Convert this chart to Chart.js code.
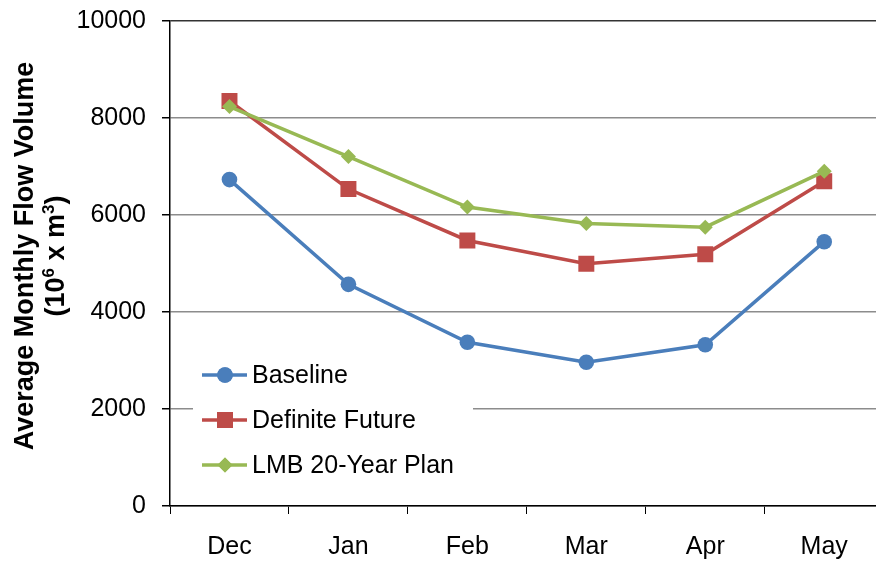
<!DOCTYPE html>
<html>
<head>
<meta charset="utf-8">
<script src="https://cdn.jsdelivr.net/npm/chart.js@4"></script>
<style>
  html, body { margin: 0; padding: 0; background: #fff; overflow: hidden; }
  #wrap { width: 895px; height: 572px; margin-top: -10px; }
</style>
</head>
<body>
<div id="wrap"><canvas id="flowChart" width="895" height="572"></canvas></div>
<script>
const months = ['Dec', 'Jan', 'Feb', 'Mar', 'Apr', 'May'];
const baseline = [6730, 4570, 3375, 2965, 3325, 5450];
const definiteFuture = [8350, 6535, 5475, 4995, 5190, 6695];
const lmbPlan = [8235, 7205, 6165, 5825, 5750, 6900];
const yTicks = [0, 2000, 4000, 6000, 8000, 10000];

const seriesNames = ['Baseline', 'Definite Future', 'LMB 20-Year Plan'];
const seriesColors = ['#4a7ebb', '#be4b48', '#98b954'];
const seriesPoints = ['circle', 'rect', 'rectRot'];
const seriesRadius = [7.8, 11.3, 7.5];

const fontFam = '"Liberation Sans", Arial, sans-serif';
const shiftY = 10; // canvas is pulled up by this much

// legend box drawn inside the plot, bottom-left, with white background
const insideLegend = {
    id: 'insideLegend',
    afterDraw(chart) {
        const ctx = chart.ctx;
        ctx.save();
        ctx.translate(0, shiftY);
        ctx.fillStyle = '#fff';
        ctx.fillRect(193, 352, 280, 136);
        ctx.font = '25px ' + fontFam;
        ctx.textBaseline = 'middle';
        ctx.textAlign = 'left';
        seriesNames.forEach(function (name, i) {
            let y = 375 + i * 45;
            ctx.strokeStyle = seriesColors[i];
            ctx.lineWidth = 3.5;
            ctx.beginPath();
            ctx.moveTo(202, y);
            ctx.lineTo(247, y);
            ctx.stroke();
            ctx.fillStyle = seriesColors[i];
            Chart.helpers.drawPoint(ctx, { pointStyle: seriesPoints[i], radius: seriesRadius[i], rotation: 0, borderWidth: 0 }, 225, y);
            ctx.fill();
            ctx.fillStyle = '#000';
            ctx.fillText(name, 252, y + 1);
        });
        ctx.restore();
    }
};

// rotated y-axis title with superscripts
const yTitle = {
    id: 'yTitle',
    afterDraw(chart) {
        const ctx = chart.ctx;
        ctx.save();
        ctx.fillStyle = '#000';
        ctx.textBaseline = 'middle';
        ctx.translate(0, 256 + shiftY);
        ctx.rotate(-Math.PI / 2);
        const big = 'bold 27px ' + fontFam;
        const small = 'bold 17px ' + fontFam;
        ctx.font = big;
        ctx.textAlign = 'center';
        ctx.fillText('Average Monthly Flow Volume', 0, 26);
        // second line: (10^6 x m^3)
        const parts = [['(10', big, 0], ['6', small, -8], [' x m', big, 0], ['3', small, -8], [')', big, 0]];
        let total = 0;
        parts.forEach(function (p) { ctx.font = p[1]; total += ctx.measureText(p[0]).width; });
        let x = -total / 2;
        ctx.textAlign = 'left';
        parts.forEach(function (p) {
            ctx.font = p[1];
            ctx.fillText(p[0], x, 57 + p[2]);
            x += ctx.measureText(p[0]).width;
        });
        ctx.restore();
    }
};

function makeSet(i, values) {
    return {
        label: seriesNames[i],
        data: values,
        borderColor: seriesColors[i],
        backgroundColor: seriesColors[i],
        borderWidth: 3.5,
        pointStyle: seriesPoints[i],
        pointRadius: seriesRadius[i],
        pointBorderWidth: 0,
        tension: 0
    };
}

new Chart(document.getElementById('flowChart').getContext('2d'), {
    type: 'line',
    data: {
        labels: months,
        datasets: [makeSet(2, lmbPlan), makeSet(1, definiteFuture), makeSet(0, baseline)]
    },
    options: {
        responsive: false,
        animation: false,
        layout: { padding: { top: 8, right: 0, left: 0, bottom: 0 } },
        plugins: { legend: { display: false }, tooltip: { enabled: false } },
        scales: {
            x: {
                offset: true,
                grid: { offset: true, drawOnChartArea: false, tickLength: 8, tickColor: '#000' },
                border: { color: '#000', width: 1.5 },
                ticks: { color: '#000', font: { family: fontFam, size: 25 }, padding: 18 },
                afterFit: function (s) { s.height = 56; }
            },
            y: {
                min: 0,
                max: 10000,
                afterBuildTicks: function (s) { s.ticks = yTicks.map(function (v) { return { value: v }; }); },
                grid: {
                    color: function (c) { return c.tick && c.tick.value === 10000 ? '#333' : '#8c8c8c'; },
                    lineWidth: 1.5,
                    tickLength: 8,
                    tickColor: '#000'
                },
                border: { color: '#000', width: 1.5 },
                ticks: {
                    color: '#000',
                    font: { family: fontFam, size: 25 },
                    padding: 16,
                    callback: function (v) { return String(v); }
                },
                afterFit: function (s) { s.width = 170; }
            }
        }
    },
    plugins: [insideLegend, yTitle]
});
</script>
</body>
</html>
